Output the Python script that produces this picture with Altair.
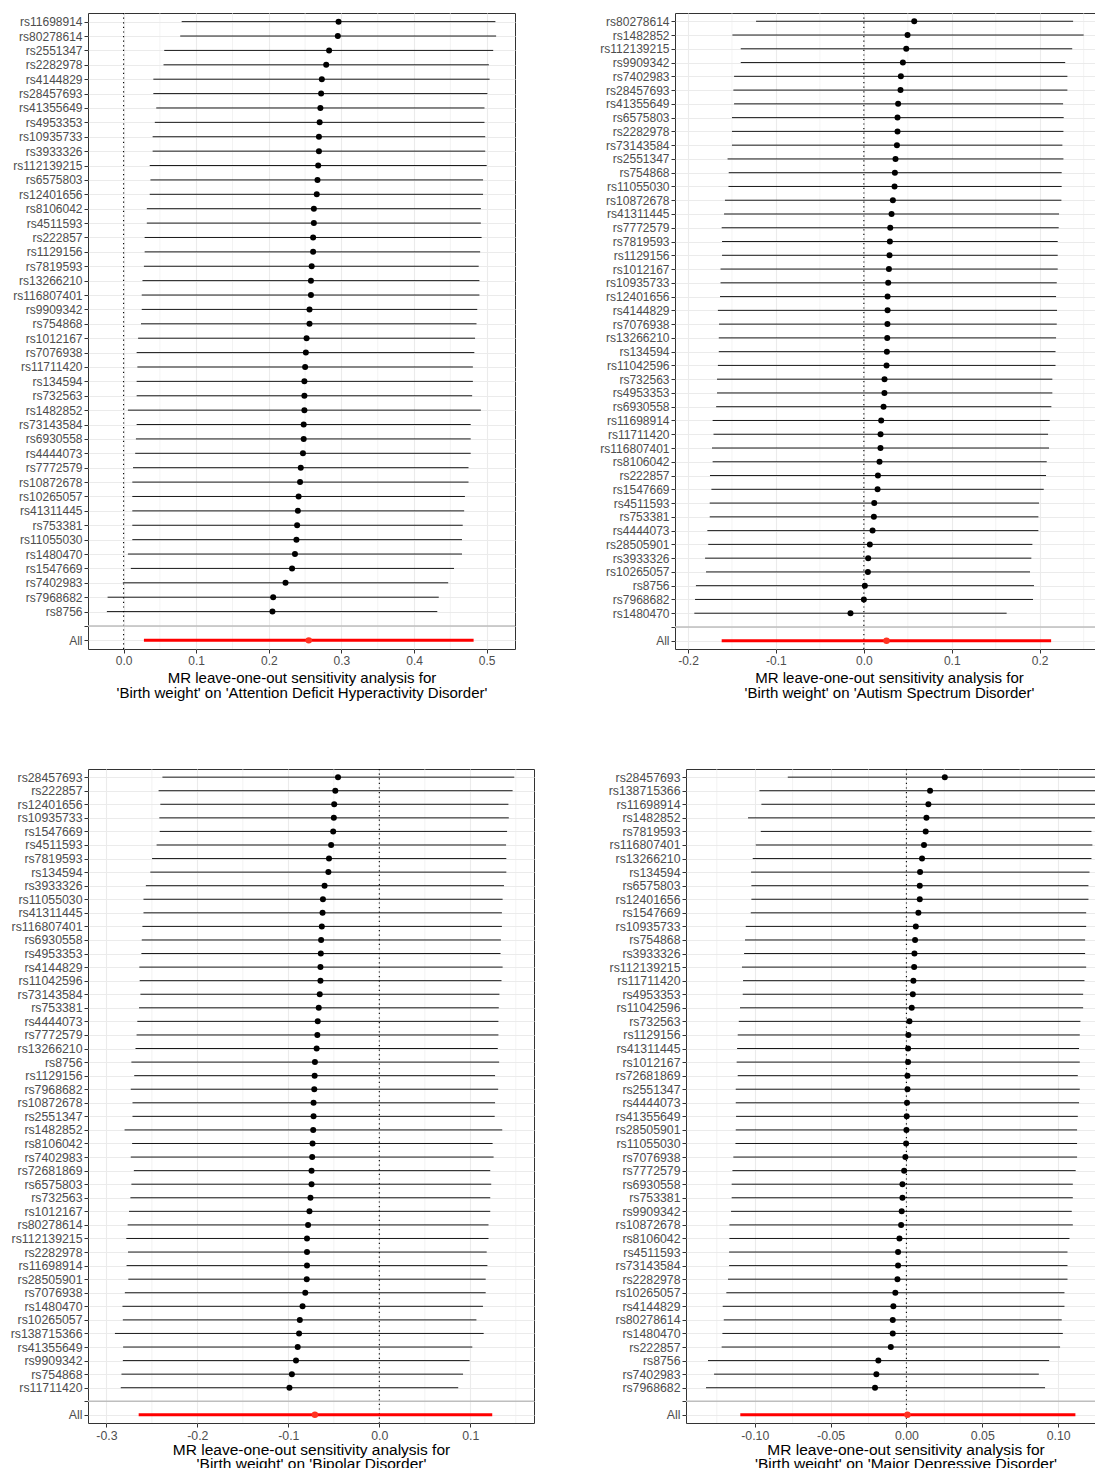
import altair as alt
import pandas as pd

# ---------------- Panel 1: ADHD ----------------
adhd_snp = ["rs11698914", "rs80278614", "rs2551347", "rs2282978", "rs4144829", "rs28457693",
            "rs41355649", "rs4953353", "rs10935733", "rs3933326", "rs112139215", "rs6575803",
            "rs12401656", "rs8106042", "rs4511593", "rs222857", "rs1129156", "rs7819593",
            "rs13266210", "rs116807401", "rs9909342", "rs754868", "rs1012167", "rs7076938",
            "rs11711420", "rs134594", "rs732563", "rs1482852", "rs73143584", "rs6930558",
            "rs4444073", "rs7772579", "rs10872678", "rs10265057", "rs41311445", "rs753381",
            "rs11055030", "rs1480470", "rs1547669", "rs7402983", "rs7968682", "rs8756"]
adhd_b = [0.296, 0.295, 0.283, 0.279, 0.273, 0.272, 0.271, 0.270, 0.269, 0.269, 0.268, 0.267,
          0.266, 0.262, 0.262, 0.261, 0.261, 0.259, 0.258, 0.258, 0.256, 0.256, 0.252, 0.251,
          0.250, 0.249, 0.249, 0.249, 0.248, 0.248, 0.247, 0.244, 0.243, 0.241, 0.240, 0.239,
          0.238, 0.236, 0.232, 0.223, 0.206, 0.205]
adhd_lo = [0.080, 0.078, 0.056, 0.055, 0.041, 0.041, 0.045, 0.043, 0.040, 0.040, 0.036, 0.037,
           0.036, 0.032, 0.032, 0.029, 0.029, 0.028, 0.026, 0.025, 0.025, 0.024, 0.020, 0.018,
           0.019, 0.018, 0.018, 0.006, 0.018, 0.017, 0.016, 0.013, 0.012, 0.012, 0.012, 0.012,
           0.012, 0.006, 0.010, -0.001, -0.022, -0.023]
adhd_up = [0.512, 0.513, 0.509, 0.503, 0.504, 0.501, 0.497, 0.497, 0.498, 0.498, 0.500, 0.495,
           0.495, 0.492, 0.492, 0.493, 0.491, 0.489, 0.490, 0.490, 0.487, 0.486, 0.484, 0.483,
           0.481, 0.481, 0.480, 0.492, 0.478, 0.478, 0.478, 0.475, 0.475, 0.470, 0.469, 0.467,
           0.466, 0.466, 0.455, 0.447, 0.434, 0.432]
adhd_all = [0.255, 0.028, 0.482]
adhd_ticks = [0.0, 0.1, 0.2, 0.3, 0.4, 0.5]
adhd_minor = [0.05, 0.15, 0.25, 0.35, 0.45]
adhd_title = ["MR leave-one-out sensitivity analysis for",
              "'Birth weight' on 'Attention Deficit Hyperactivity Disorder'"]

# ---------------- Panel 2: ASD ----------------
asd_snp = ["rs80278614", "rs1482852", "rs112139215", "rs9909342", "rs7402983", "rs28457693",
           "rs41355649", "rs6575803", "rs2282978", "rs73143584", "rs2551347", "rs754868",
           "rs11055030", "rs10872678", "rs41311445", "rs7772579", "rs7819593", "rs1129156",
           "rs1012167", "rs10935733", "rs12401656", "rs4144829", "rs7076938", "rs13266210",
           "rs134594", "rs11042596", "rs732563", "rs4953353", "rs6930558", "rs11698914",
           "rs11711420", "rs116807401", "rs8106042", "rs222857", "rs1547669", "rs4511593",
           "rs753381", "rs4444073", "rs28505901", "rs3933326", "rs10265057", "rs8756",
           "rs7968682", "rs1480470"]
asd_b = [0.0573, 0.0497, 0.0482, 0.0444, 0.0421, 0.0417, 0.0390, 0.0383, 0.0383, 0.0376,
         0.0360, 0.0353, 0.0349, 0.0330, 0.0315, 0.0300, 0.0296, 0.0292, 0.0285, 0.0277,
         0.0270, 0.0270, 0.0268, 0.0266, 0.0262, 0.0258, 0.0235, 0.0234, 0.0224, 0.0197,
         0.0190, 0.0189, 0.0178, 0.0160, 0.0156, 0.0118, 0.0114, 0.0099, 0.0068, 0.0049,
         0.0046, 0.0011, 0.0000, -0.0152]
asd_lo = [-0.1226, -0.1495, -0.1400, -0.1400, -0.1476, -0.1484, -0.1476, -0.1500, -0.1500,
          -0.1500, -0.1550, -0.1537, -0.1540, -0.1580, -0.1590, -0.1617, -0.1613, -0.1613,
          -0.1630, -0.1630, -0.1636, -0.1660, -0.1647, -0.1650, -0.1650, -0.1660, -0.1670,
          -0.1670, -0.1680, -0.1720, -0.1710, -0.1727, -0.1720, -0.1750, -0.1734, -0.1753,
          -0.1753, -0.1780, -0.1770, -0.1806, -0.1795, -0.1910, -0.1920, -0.1928]
asd_up = [0.2380, 0.2500, 0.2370, 0.2290, 0.2315, 0.2315, 0.2266, 0.2273, 0.2270, 0.2258,
          0.2270, 0.2250, 0.2250, 0.2247, 0.2220, 0.2216, 0.2205, 0.2205, 0.2205, 0.2194,
          0.2186, 0.2197, 0.2194, 0.2186, 0.2180, 0.2180, 0.2144, 0.2144, 0.2133, 0.2114,
          0.2095, 0.2106, 0.2080, 0.2072, 0.2046, 0.1992, 0.1985, 0.1985, 0.1917, 0.1905,
          0.1890, 0.1935, 0.1924, 0.1624]
asd_all = [0.0258, -0.1617, 0.2130]
asd_ticks = [-0.2, -0.1, 0.0, 0.1, 0.2]
asd_minor = [-0.15, -0.05, 0.05, 0.15, 0.25]
asd_title = ["MR leave-one-out sensitivity analysis for",
             "'Birth weight' on 'Autism Spectrum Disorder'"]

# ---------------- Panel 3: Bipolar ----------------
bd_snp = ["rs28457693", "rs222857", "rs12401656", "rs10935733", "rs1547669", "rs4511593",
          "rs7819593", "rs134594", "rs3933326", "rs11055030", "rs41311445", "rs116807401",
          "rs6930558", "rs4953353", "rs4144829", "rs11042596", "rs73143584", "rs753381",
          "rs4444073", "rs7772579", "rs13266210", "rs8756", "rs1129156", "rs7968682",
          "rs10872678", "rs2551347", "rs1482852", "rs8106042", "rs7402983", "rs72681869",
          "rs6575803", "rs732563", "rs1012167", "rs80278614", "rs112139215", "rs2282978",
          "rs11698914", "rs28505901", "rs7076938", "rs1480470", "rs10265057", "rs138715366",
          "rs41355649", "rs9909342", "rs754868", "rs11711420"]
bd_b = [-0.0454, -0.0484, -0.0496, -0.0500, -0.0507, -0.0530, -0.0553, -0.0560, -0.0602,
        -0.0620, -0.0624, -0.0632, -0.0640, -0.0643, -0.0647, -0.0647, -0.0655, -0.0666,
        -0.0677, -0.0681, -0.0689, -0.0708, -0.0711, -0.0715, -0.0723, -0.0723, -0.0727,
        -0.0734, -0.0738, -0.0745, -0.0745, -0.0757, -0.0768, -0.0783, -0.0795, -0.0795,
        -0.0795, -0.0798, -0.0814, -0.0844, -0.0874, -0.0882, -0.0897, -0.0916, -0.0961,
        -0.0988]
bd_lo = [-0.2384, -0.2426, -0.2407, -0.2418, -0.2414, -0.2448, -0.2498, -0.2517, -0.2566,
         -0.2592, -0.2592, -0.2604, -0.2611, -0.2615, -0.2638, -0.2634, -0.2626, -0.2641,
         -0.2660, -0.2668, -0.2680, -0.2725, -0.2694, -0.2732, -0.2713, -0.2713, -0.2800,
         -0.2717, -0.2732, -0.2698, -0.2725, -0.2736, -0.2751, -0.2766, -0.2781, -0.2762,
         -0.2778, -0.2759, -0.2797, -0.2823, -0.2819, -0.2906, -0.2816, -0.2819, -0.2834,
         -0.2842]
bd_up = [0.1483, 0.1465, 0.1419, 0.1423, 0.1404, 0.1393, 0.1396, 0.1396, 0.1370, 0.1355,
         0.1347, 0.1347, 0.1336, 0.1332, 0.1355, 0.1343, 0.1320, 0.1313, 0.1309, 0.1309,
         0.1302, 0.1317, 0.1272, 0.1306, 0.1272, 0.1268, 0.1351, 0.1245, 0.1256, 0.1219,
         0.1230, 0.1219, 0.1219, 0.1200, 0.1200, 0.1180, 0.1188, 0.1169, 0.1169, 0.1139,
         0.1067, 0.1147, 0.1022, 0.0992, 0.0920, 0.0867]
bd_all = [-0.0708, -0.2645, 0.1241]
bd_ticks = [-0.3, -0.2, -0.1, 0.0, 0.1]
bd_minor = [-0.25, -0.15, -0.05, 0.05, 0.15]
bd_title = ["MR leave-one-out sensitivity analysis for",
            "'Birth weight' on 'Bipolar Disorder'"]

# ---------------- Panel 4: MDD ----------------
mdd_snp = ["rs28457693", "rs138715366", "rs11698914", "rs1482852", "rs7819593", "rs116807401",
           "rs13266210", "rs134594", "rs6575803", "rs12401656", "rs1547669", "rs10935733",
           "rs754868", "rs3933326", "rs112139215", "rs11711420", "rs4953353", "rs11042596",
           "rs732563", "rs1129156", "rs41311445", "rs1012167", "rs72681869", "rs2551347",
           "rs4444073", "rs41355649", "rs28505901", "rs11055030", "rs7076938", "rs7772579",
           "rs6930558", "rs753381", "rs9909342", "rs10872678", "rs8106042", "rs4511593",
           "rs73143584", "rs2282978", "rs10265057", "rs4144829", "rs80278614", "rs1480470",
           "rs222857", "rs8756", "rs7402983", "rs7968682"]
mdd_b = [0.0253, 0.0156, 0.0145, 0.0132, 0.0127, 0.0116, 0.0103, 0.0090, 0.0088, 0.0088,
         0.0079, 0.0062, 0.0057, 0.0053, 0.0051, 0.0046, 0.0042, 0.0035, 0.0020, 0.0013,
         0.0011, 0.0011, 0.0007, 0.0007, 0.0004, 0.0002, 0.0000, -0.0002, -0.0007, -0.0015,
         -0.0026, -0.0026, -0.0031, -0.0035, -0.0046, -0.0055, -0.0055, -0.0059, -0.0073,
         -0.0086, -0.0090, -0.0090, -0.0103, -0.0185, -0.0198, -0.0207]
mdd_lo = [-0.0782, -0.0969, -0.0956, -0.1044, -0.0960, -0.0993, -0.1013, -0.1024, -0.1022,
          -0.1022, -0.1026, -0.1059, -0.1064, -0.1070, -0.1084, -0.1077, -0.1079, -0.1097,
          -0.1105, -0.1112, -0.1116, -0.1119, -0.1112, -0.1125, -0.1125, -0.1123, -0.1125,
          -0.1127, -0.1141, -0.1147, -0.1152, -0.1152, -0.1156, -0.1167, -0.1167, -0.1169,
          -0.1169, -0.1176, -0.1187, -0.1211, -0.1204, -0.1213, -0.1218, -0.1308, -0.1268,
          -0.1321]
mdd_up = [0.1290, 0.1281, 0.1244, 0.1310, 0.1220, 0.1226, 0.1220, 0.1207, 0.1200, 0.1200,
          0.1185, 0.1185, 0.1178, 0.1178, 0.1185, 0.1174, 0.1165, 0.1165, 0.1147, 0.1143,
          0.1138, 0.1143, 0.1130, 0.1143, 0.1138, 0.1130, 0.1125, 0.1125, 0.1125, 0.1116,
          0.1097, 0.1097, 0.1090, 0.1097, 0.1075, 0.1062, 0.1062, 0.1062, 0.1042, 0.1042,
          0.1024, 0.1031, 0.1013, 0.0941, 0.0873, 0.0914]
mdd_all = [0.0007, -0.1095, 0.1114]
mdd_ticks = [-0.10, -0.05, 0.0, 0.05, 0.10]
mdd_minor = [-0.125, -0.075, -0.025, 0.025, 0.075, 0.125]
mdd_title = ["MR leave-one-out sensitivity analysis for",
             "'Birth weight' on 'Major Depressive Disorder'"]

FONT = "Liberation Sans"


def panel(snps, b, lo, up, allv, dom, ticks, minor, fmt, w, h, title, extent, lfs, tfs, tlh, tpad):
    order = snps + [" ", "All"]
    df = pd.DataFrame({"SNP": snps, "v": b})
    dfe = pd.DataFrame({"SNP": snps, "v": lo, "v2": up})
    dfa = pd.DataFrame({"SNP": ["All"], "v": [allv[0]]})
    dfae = pd.DataFrame({"SNP": ["All"], "v": [allv[1]], "v2": [allv[2]]})
    dfm = pd.DataFrame({"v": minor})
    dfz = pd.DataFrame({"v": [0.0]})
    dfh = pd.DataFrame({"SNP": [" "]})
    lab = ("datum.value < 0 ? '-' + format(-datum.value, '%s') : format(datum.value, '%s')"
           % (fmt, fmt))
    X = alt.X("v:Q", scale=alt.Scale(domain=dom, nice=False, zero=False), title=title,
              axis=alt.Axis(values=ticks, labelExpr=lab, labelFlush=False, labelFont=FONT,
                            labelFontSize=lfs, labelColor="#4D4D4D", labelPadding=2,
                            tickColor="#333333", tickSize=4, tickWidth=1, domain=False,
                            grid=True, gridColor="#EBEBEB", gridWidth=1.1,
                            titleFont=FONT, titleFontSize=tfs, titleFontWeight="normal",
                            titleColor="black", titlePadding=tpad, titleLineHeight=tlh))
    Y = alt.Y("SNP:N", scale=alt.Scale(type="point", domain=order, padding=0.6), title=None,
              axis=alt.Axis(labelFont=FONT, labelFontSize=lfs, labelColor="#4D4D4D",
                            labelPadding=2, tickColor="#333333", tickSize=4, tickWidth=1,
                            domain=False, grid=True, gridColor="#EBEBEB", gridWidth=1.1,
                            minExtent=extent, maxExtent=extent))
    minor_l = alt.Chart(dfm).mark_rule(color="#EBEBEB", strokeWidth=0.6).encode(x=X)
    zero_l = alt.Chart(dfz).mark_rule(color="black", strokeWidth=1.1,
                                      strokeDash=[1.2, 3.4]).encode(x=X)
    err_l = alt.Chart(dfe).mark_rule(color="black", strokeWidth=0.9).encode(
        x=X, x2="v2:Q", y=Y)
    pt_l = alt.Chart(df).mark_point(filled=True, color="black", size=36, opacity=1).encode(x=X, y=Y)
    alle_l = alt.Chart(dfae).mark_rule(color="#FF0000", strokeWidth=3).encode(
        x=X, x2="v2:Q", y=Y)
    allp_l = alt.Chart(dfa).mark_point(filled=True, color="#FF3322", size=42, opacity=1).encode(x=X, y=Y)
    hl_l = alt.Chart(dfh).mark_rule(color="#BEBEBE", strokeWidth=1.4).encode(y=Y)
    return alt.layer(minor_l, zero_l, err_l, pt_l, alle_l, allp_l, hl_l).properties(
        width=w, height=h)


p1 = panel(adhd_snp, adhd_b, adhd_lo, adhd_up, adhd_all, [-0.049, 0.539], adhd_ticks,
           adhd_minor, ".1f", 427, 636, adhd_title, 79, 12, 15, 15, 4)
p2 = panel(asd_snp, asd_b, asd_lo, asd_up, asd_all, [-0.2148, 0.272], asd_ticks,
           asd_minor, ".1f", 428, 636, asd_title, 79, 12, 15, 15, 4)
p3 = panel(bd_snp, bd_b, bd_lo, bd_up, bd_all, [-0.3202, 0.170], bd_ticks,
           bd_minor, ".1f", 446, 654, bd_title, 79, 12.3, 15.5, 14.5, 1)
p4 = panel(mdd_snp, mdd_b, mdd_lo, mdd_up, mdd_all, [-0.1453, 0.1441], mdd_ticks,
           mdd_minor, ".2f", 439, 654, mdd_title, 86, 12.3, 15.5, 14.5, 1)

row1 = alt.hconcat(p1, p2, spacing=78)
row2 = alt.hconcat(p3, p4, spacing=63)
chart = alt.vconcat(row1, row2, spacing=66).properties(
    padding={"left": 0, "top": 3, "right": -32, "bottom": -5}
).configure(font=FONT).configure_view(stroke="#333333", strokeWidth=1.0)

chart.save("out.html", embed_options={"renderer": "svg", "actions": False})
